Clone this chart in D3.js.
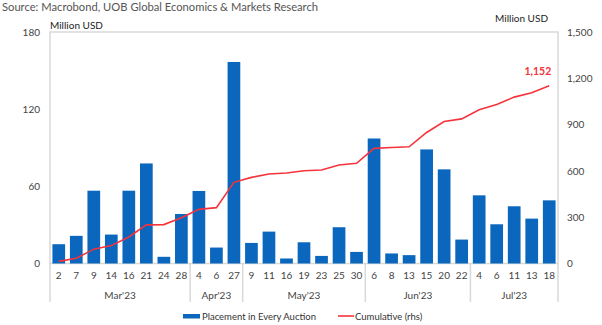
<!DOCTYPE html>
<html>
<head>
<meta charset="utf-8">
<script src="https://cdn.jsdelivr.net/npm/d3@7"></script>
<style>
  html, body { margin: 0; padding: 0; background: #fff; }
  svg { display: block; font-family: Lato, "Noto Sans", sans-serif; }
</style>
</head>
<body>
<svg id="chart" width="602" height="325"></svg>
<script>
// Auction dates, grouped by month
const months = ["Mar'23", "Apr'23", "May'23", "Jun'23", "Jul'23"];
const days = [
  ["2", "7", "9", "14", "16", "21", "24", "28"],
  ["4", "6", "27"],
  ["9", "11", "16", "19", "23", "25", "30"],
  ["6", "8", "13", "15", "20", "22"],
  ["4", "6", "11", "13", "18"]
];
// Placement in every auction (million USD, left axis)
const placement = [
  15, 21.5, 56.6, 22.5, 56.6, 77.8, 5.2, 38.5,
  56.4, 12.4, 156.7,
  16, 24.8, 3.9, 16.5, 5.9, 28.2, 9,
  97.2, 7.8, 6.5, 88.7, 73.2, 18.6,
  53, 30.5, 44.5, 34.9, 49.1
];
// Cumulative placement (million USD, right axis)
const cumulative = [
  14, 34, 93, 116, 172, 250, 252, 297,
  351, 362, 526,
  558, 580, 586, 601, 606, 638, 649,
  746, 752, 756, 849, 920, 937,
  996, 1030, 1078, 1106, 1152
];
const leftTicks = [0, 60, 120, 180];
const rightTicks = [0, 300, 600, 900, 1200, 1500];

// Flatten categories into unique keys
const cats = [];
days.forEach((ds, mi) => ds.forEach(d => cats.push({ key: months[mi] + "-" + d, day: d, month: mi })));

const svg = d3.select("#chart");
const L = 50, R = 558, T = 32, B = 263.5;
const gridColor = "#d9d9d9";
const blue = "#0a67bd";
const red = "#f5333b";

const x = d3.scaleBand().domain(cats.map(c => c.key)).range([L, R])
  .paddingInner(0.275).paddingOuter(0.1375);
const yL = d3.scaleLinear().domain([0, 180]).range([B, T]);
const yR = d3.scaleLinear().domain([0, 1500]).range([B, T]);

// Source line
svg.append("text").attr("x", 2).attr("y", 11)
  .attr("font-size", 11.2).attr("fill", "#555")
  .text("Source: Macrobond, UOB Global Economics & Markets Research");

// Axis unit labels
svg.append("text").attr("x", L).attr("y", 28.5)
  .attr("font-size", 10).attr("fill", "#222").text("Million USD");
svg.append("text").attr("x", 548).attr("y", 22).attr("text-anchor", "end")
  .attr("font-size", 10).attr("fill", "#222").text("Million USD");

// Plot frame
svg.append("rect").attr("x", L).attr("y", T).attr("width", R - L).attr("height", B - T)
  .attr("fill", "none").attr("stroke", gridColor).attr("stroke-width", 1.5);

// Month separators in the category band
const bounds = [0];
let acc = 0;
days.forEach(ds => { acc += ds.length; bounds.push(acc); });
bounds.forEach((b, i) => {
  const xx = i === 0 ? L : (i === bounds.length - 1 ? R : x(cats[b].key) - x.step() * x.paddingInner() / 2);
  svg.append("line").attr("x1", xx).attr("x2", xx).attr("y1", B).attr("y2", 302)
    .attr("stroke", gridColor).attr("stroke-width", 1.5);
});

// Bars
svg.append("g").selectAll("rect").data(placement).join("rect")
  .attr("x", (d, i) => x(cats[i].key))
  .attr("width", x.bandwidth())
  .attr("y", d => yL(d))
  .attr("height", d => B - yL(d))
  .attr("fill", blue);

// Cumulative line
const line = d3.line()
  .x((d, i) => x(cats[i].key) + x.bandwidth() / 2)
  .y(d => yR(d));
svg.append("path").datum(cumulative).attr("d", line)
  .attr("fill", "none").attr("stroke", red).attr("stroke-width", 1.6);

// Last value label
const last = cumulative.length - 1;
svg.append("text")
  .attr("x", x(cats[last].key) + x.bandwidth() / 2 + 2)
  .attr("y", yR(cumulative[last]) - 11)
  .attr("text-anchor", "end").attr("font-size", 10.5).attr("font-weight", "bold")
  .attr("fill", red).text(d3.format(",")(cumulative[last]));

// Left axis
const axL = svg.append("g").attr("transform", `translate(${L - 10},0)`)
  .call(d3.axisLeft(yL).tickValues(leftTicks).tickSize(0).tickPadding(0));
axL.select(".domain").remove();
axL.selectAll("text").attr("font-size", 10).attr("fill", "#444").attr("font-family", "Lato, 'Noto Sans', sans-serif");

// Right axis
const axR = svg.append("g").attr("transform", `translate(567,0)`)
  .call(d3.axisRight(yR).tickValues(rightTicks).tickSize(0).tickPadding(0).tickFormat(d3.format(",")));
axR.select(".domain").remove();
axR.selectAll("text").attr("font-size", 10).attr("fill", "#444").attr("font-family", "Lato, 'Noto Sans', sans-serif");

// Bottom axis: day labels
const axB = svg.append("g").attr("transform", `translate(0,${B})`)
  .call(d3.axisBottom(x).tickSize(0).tickPadding(8).tickFormat(k => cats.find(c => c.key === k).day));
axB.select(".domain").remove();
axB.selectAll("text").attr("font-size", 10).attr("fill", "#444").attr("font-family", "Lato, 'Noto Sans', sans-serif");

// Month labels
months.forEach((m, i) => {
  const x0 = i === 0 ? L : x(cats[bounds[i]].key) - x.step() * x.paddingInner() / 2;
  const x1 = i === months.length - 1 ? R : x(cats[bounds[i + 1]].key) - x.step() * x.paddingInner() / 2;
  svg.append("text").attr("x", (x0 + x1) / 2).attr("y", 299)
    .attr("text-anchor", "middle").attr("font-size", 10).attr("fill", "#444").text(m);
});

// Legend
const lg = svg.append("g");
lg.append("rect").attr("x", 183).attr("y", 314).attr("width", 17).attr("height", 4.5).attr("fill", blue);
lg.append("text").attr("x", 202).attr("y", 319.5).attr("font-size", 9.5).attr("fill", "#333")
  .text("Placement in Every Auction");
lg.append("line").attr("x1", 338).attr("x2", 354).attr("y1", 316).attr("y2", 316)
  .attr("stroke", red).attr("stroke-width", 1.6);
lg.append("text").attr("x", 355).attr("y", 319.5).attr("font-size", 9.5).attr("fill", "#333")
  .text("Cumulative (rhs)");
</script>
</body>
</html>
